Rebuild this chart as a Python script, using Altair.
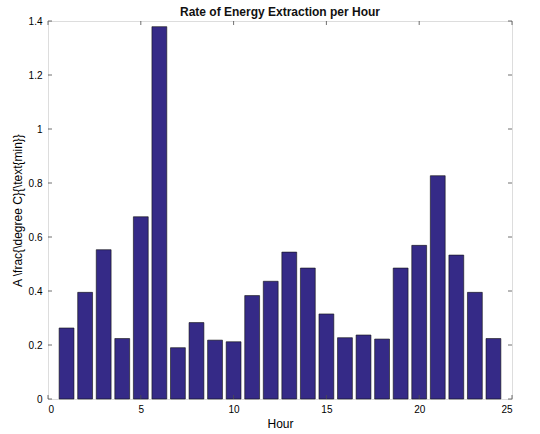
import altair as alt
import pandas as pd

# Hourly extraction rate
hours = list(range(1, 25))
rates = [0.263, 0.395, 0.553, 0.224, 0.675, 1.379, 0.190, 0.283, 0.218, 0.212,
         0.383, 0.436, 0.544, 0.485, 0.315, 0.227, 0.237, 0.222, 0.485, 0.569,
         0.827, 0.533, 0.395, 0.224]

x_ticks = [0, 5, 10, 15, 20, 25]
y_ticks = [0, 0.2, 0.4, 0.6, 0.8, 1.0, 1.2, 1.4]

BAR_WIDTH = 0.8
BAR_COLOR = "#352a87"
AXIS_COLOR = "#4d4d4d"
FONT = "Liberation Sans"

df = pd.DataFrame({"hour": hours, "rate": rates})
xt = pd.DataFrame({"v": x_ticks})
yt = pd.DataFrame({"v": y_ticks})

x_scale = alt.Scale(domain=[0, 25], nice=False, zero=False)
y_scale = alt.Scale(domain=[0, 1.4], nice=False)

bars = alt.Chart(df).transform_calculate(
    x0=f"datum.hour - {BAR_WIDTH / 2}",
    x1=f"datum.hour + {BAR_WIDTH / 2}",
).mark_rect(color=BAR_COLOR, stroke="#111111", strokeWidth=0.6).encode(
    x=alt.X("x0:Q", scale=x_scale,
            axis=alt.Axis(values=x_ticks, title="Hour", tickSize=0, grid=False,
                          domain=False, labelPadding=5, titlePadding=4,
                          titleFontWeight="normal", titleFontSize=12)),
    x2="x1:Q",
    y=alt.Y("rate:Q", scale=y_scale,
            axis=alt.Axis(values=y_ticks, format="~g", title="A \\frac{\\degree C}{\\text{min}}",
                          tickSize=0, grid=False, domain=False, labelPadding=6,
                          titlePadding=4, titleFontWeight="normal", titleFontSize=12)),
    y2=alt.datum(0),
)

TICK = 4
# inward tick marks on all four sides of the box
xtick_bottom = alt.Chart(xt).mark_rule(color=AXIS_COLOR, strokeWidth=0.8).encode(
    x=alt.X("v:Q", scale=x_scale), y=alt.value(378), y2=alt.value(378 - TICK))
xtick_top = alt.Chart(xt).mark_rule(color=AXIS_COLOR, strokeWidth=0.8).encode(
    x=alt.X("v:Q", scale=x_scale), y=alt.value(0), y2=alt.value(TICK))
ytick_left = alt.Chart(yt).mark_rule(color=AXIS_COLOR, strokeWidth=0.8).encode(
    y=alt.Y("v:Q", scale=y_scale), x=alt.value(0), x2=alt.value(TICK))
ytick_right = alt.Chart(yt).mark_rule(color=AXIS_COLOR, strokeWidth=0.8).encode(
    y=alt.Y("v:Q", scale=y_scale), x=alt.value(464), x2=alt.value(464 - TICK))

chart = alt.layer(bars, xtick_bottom, xtick_top, ytick_left, ytick_right).properties(
    width=464,
    height=378,
    title=alt.TitleParams("Rate of Energy Extraction per Hour", fontSize=12,
                          fontWeight="bold", font=FONT, color="#111111",
                          offset=4, dy=7),
    autosize=alt.AutoSizeParams(type="none"),
    padding={"left": 48, "top": 21, "right": 28, "bottom": 35},
).configure_view(
    stroke=AXIS_COLOR, strokeWidth=1
).configure_axis(
    labelFont=FONT, titleFont=FONT, labelFontSize=11,
    labelColor="#262626", titleColor="#262626",
).configure(background="white")

chart.save("out.html", embed_options={"renderer": "svg", "actions": False})
